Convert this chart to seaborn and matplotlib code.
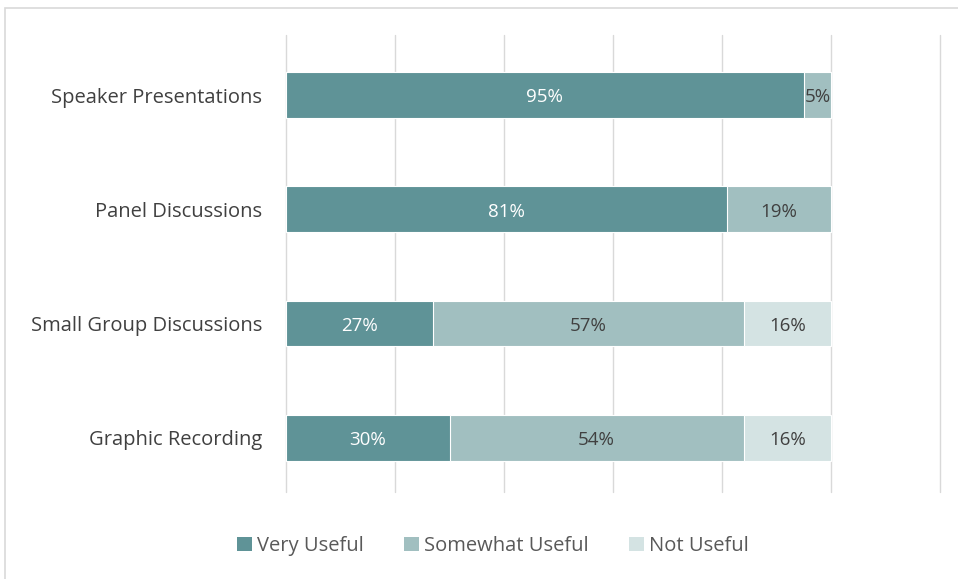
import matplotlib
matplotlib.use("Agg")
import matplotlib.pyplot as plt
import seaborn as sns
import pandas as pd
import numpy as np
from matplotlib.patches import Patch, Rectangle

categories = ["Speaker Presentations", "Panel Discussions", "Small Group Discussions", "Graphic Recording"]
very_useful = [95, 81, 27, 30]
somewhat_useful = [5, 19, 57, 54]
not_useful = [0, 0, 16, 16]
series_names = ["Very Useful", "Somewhat Useful", "Not Useful"]
colors = ["#5F9397", "#A1BFC0", "#D4E3E3"]
text_colors = ["white", "#404040", "#404040"]

sns.set_theme(style="white")
plt.rcParams['font.family'] = ['Open Sans', 'DejaVu Sans']

fig = plt.figure(figsize=(9.58, 5.79), dpi=100)
ax = fig.add_axes([286/958, 1-492/579, (940-286)/958, (492-35)/579])

series = [very_useful, somewhat_useful, not_useful]
cum = np.cumsum(np.array(series, dtype=float), axis=0) / 100.0
for i in reversed(range(3)):
    df = pd.DataFrame({"cat": categories, "val": cum[i]})
    sns.barplot(data=df, y="cat", x="val", orient="h", color=colors[i],
                saturation=1, width=0.4, ax=ax, edgecolor="white", linewidth=0.8)

for i in range(3):
    for j, cat in enumerate(categories):
        v = series[i][j]
        if v <= 0:
            continue
        start = cum[i][j] - v / 100.0
        ax.text(start + v / 200.0, j + 0.02, f"{v}%", ha="center", va="center",
                color=text_colors[i], fontsize=13.5)

ax.set_xlim(0, 1.2)
ax.set_ylim(3.474, -0.526)
ax.set_xticks(np.arange(0, 1.21, 0.2))
ax.set_xticklabels([])
ax.xaxis.grid(True, color="#D9D9D9", linewidth=1)
for gl in ax.get_xgridlines():
    gl.set_clip_on(False)
ax.set_axisbelow(True)
ax.tick_params(axis="x", length=0)
ax.tick_params(axis="y", length=0, pad=17, labelsize=14.5, labelcolor="#404040")
ax.set_xlabel("")
ax.set_ylabel("")
for s in ax.spines.values():
    s.set_visible(False)

handles = [Patch(facecolor=c, edgecolor="none") for c in colors]
fig.legend(handles, series_names, loc="center", bbox_to_anchor=(493/958, 1-546/579),
           ncol=3, frameon=False, fontsize=14.5, handlelength=0.75, handleheight=0.75,
           handletextpad=0.25, columnspacing=2.0, labelcolor="#595959")

fig.patches.append(Rectangle((5/958, -0.1), 1.2, 1 - 8/579 + 0.1, transform=fig.transFigure,
                             fill=False, edgecolor="#D9D9D9", linewidth=1.2))

fig.savefig("out.png", dpi=100, facecolor="white")
